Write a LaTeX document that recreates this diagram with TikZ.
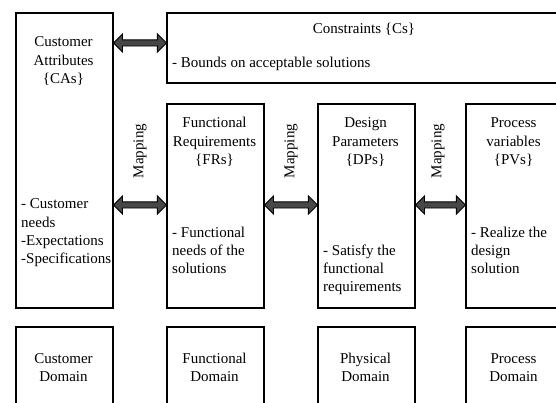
\documentclass[tikz,border=0pt]{standalone}
\usepackage{fontspec}
\setmainfont{Liberation Serif}
\usetikzlibrary{shapes.arrows,calc}
\begin{document}
\begin{tikzpicture}[x=1pt,y=-1pt,
  box/.style={draw, line width=1.8pt, inner sep=0pt, anchor=north west},
  ctr/.style={font=\fontsize{15}{18.3}\selectfont, align=center, anchor=base, inner sep=0pt},
  lft/.style={font=\fontsize{15}{18.3}\selectfont, align=left, anchor=base west, inner sep=0pt},
  maplbl/.style={font=\fontsize{15}{18.3}\selectfont, rotate=90, inner sep=0pt},
  dbl/.style={double arrow, draw=black, fill=black!72, line width=0.9pt,
    inner xsep=0pt, inner ysep=2.6pt, double arrow head extend=6pt,
    double arrow head indent=0pt}]
\path[use as bounding box] (0,0) rectangle (556,403);
\clip (0,0) rectangle (556,403);
% boxes
\node[box, minimum width=97pt, minimum height=295pt] (ca) at (15,12) {};
\node[box, minimum width=396pt, minimum height=70pt] (cs) at (166,12) {};
\node[box, minimum width=97pt, minimum height=204pt] (fr) at (166,103) {};
\node[box, minimum width=97pt, minimum height=204pt] (dp) at (317,103) {};
\node[box, minimum width=97pt, minimum height=204pt] (pv) at (465,103) {};
\node[box, minimum width=97pt, minimum height=100pt] (cd) at (15,326) {};
\node[box, minimum width=97pt, minimum height=100pt] (fd) at (166,326) {};
\node[box, minimum width=97pt, minimum height=100pt] (pd) at (317,326) {};
\node[box, minimum width=97pt, minimum height=100pt] (prd) at (465,326) {};
% arrows
\node[dbl, minimum height=53pt] (a1) at ($(ca.east |- 0,43)!0.5!(cs.west |- 0,43)$) {};
\node[dbl, minimum height=53pt] (a2) at ($(ca.east |- 0,205)!0.5!(fr.west |- 0,205)$) {};
\node[dbl, minimum height=53pt] (a3) at ($(fr.east |- 0,205)!0.5!(dp.west |- 0,205)$) {};
\node[dbl, minimum height=50pt] (a4) at ($(dp.east |- 0,205)!0.5!(pv.west |- 0,205)$) {};
% mapping labels
\node[maplbl] (m1) at (140,151) {Mapping};
\node[maplbl] (m2) at (291,151) {Mapping};
\node[maplbl] (m3) at (438,151) {Mapping};
% titles (base anchor = baseline of the last line)
\node[ctr] (tca) at (63.5,83.6) {Customer\\Attributes\\\{CAs\}};
\node[ctr] (tcs) at (364,34) {Constraints \{Cs\}};
\node[lft] (lcs) at (172,68) {- Bounds on acceptable solutions};
\node[ctr] (tfr) at (214.5,164.6) {Functional\\Requirements\\\{FRs\}};
\node[ctr] (tdp) at (365.5,164.6) {Design\\Parameters\\\{DPs\}};
\node[ctr] (tpv) at (513.5,164.6) {Process\\variables\\\{PVs\}};
% lists
\node[lft] (lca) at (21,263.9) {- Customer\\needs\\-Expectations\\-Specifications};
\node[lft] (lfr) at (172,273.6) {- Functional\\needs of the\\solutions};
\node[lft] (ldp) at (323,291.6) {- Satisfy the\\functional\\requirements};
\node[lft] (lpv) at (471,273.6) {- Realize the\\design\\solution};
% domains
\node[ctr] (dca) at (63.5,381.3) {Customer\\Domain};
\node[ctr] (dfr) at (214.5,381.3) {Functional\\Domain};
\node[ctr] (ddp) at (365.5,381.3) {Physical\\Domain};
\node[ctr] (dpv) at (513.5,381.3) {Process\\Domain};
\end{tikzpicture}
\end{document}
